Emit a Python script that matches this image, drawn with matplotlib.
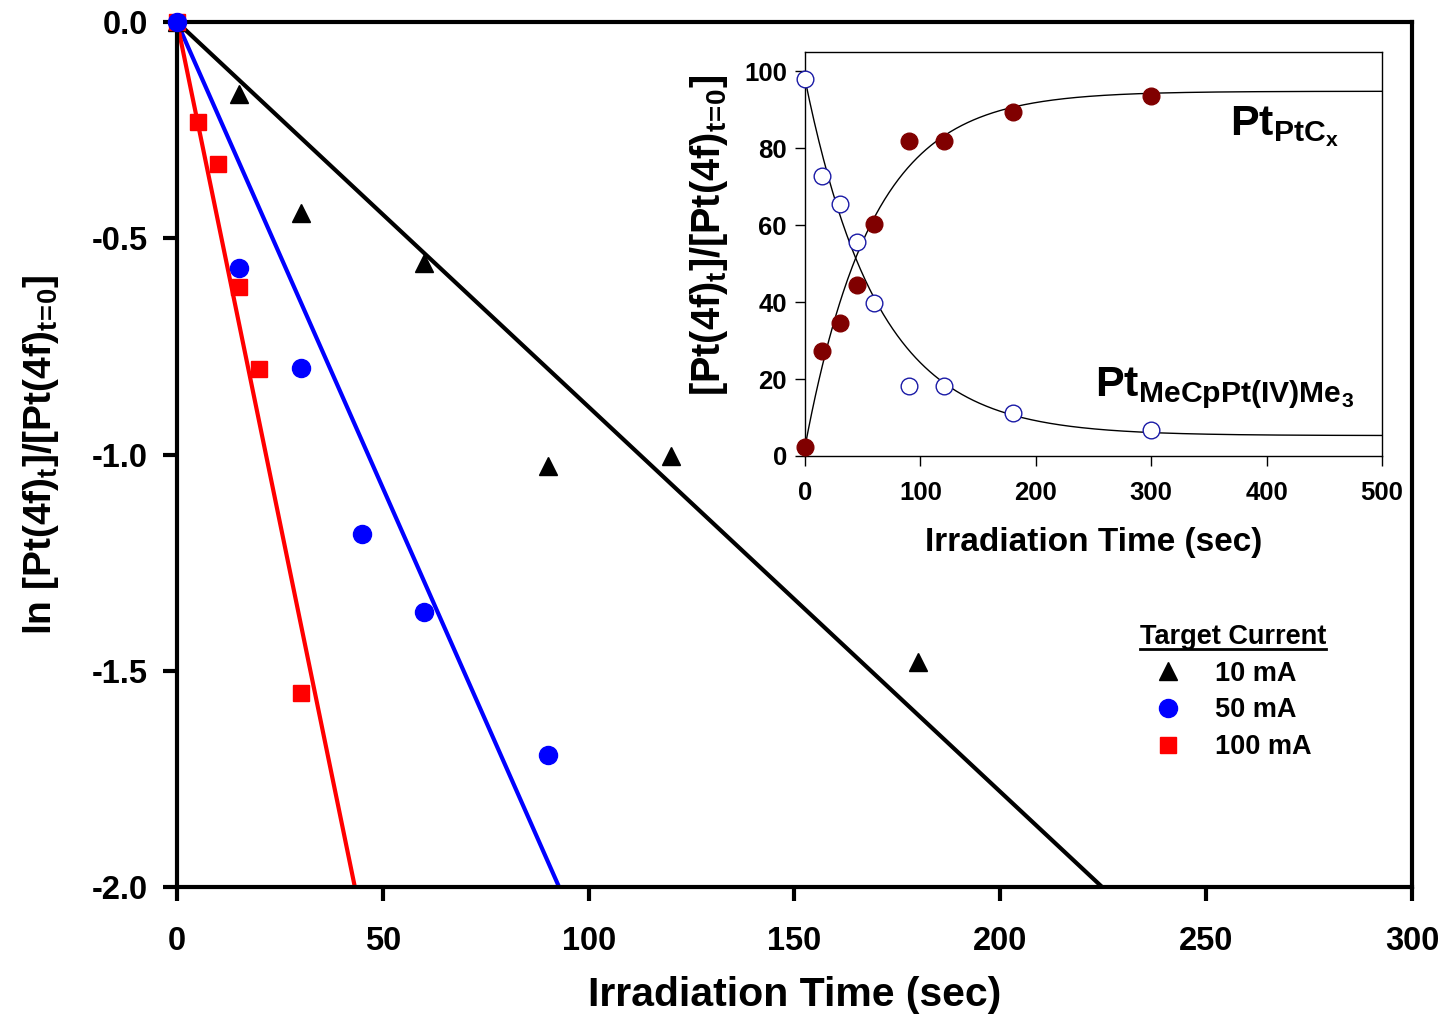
import numpy as np
import matplotlib
matplotlib.use("Agg")
import matplotlib.pyplot as plt
from matplotlib.lines import Line2D

plt.rcParams["font.family"] = ["Liberation Sans", "DejaVu Sans"]
plt.rcParams["font.weight"] = "bold"
plt.rcParams["mathtext.default"] = "regular"
plt.rcParams["axes.unicode_minus"] = False

# main panel: ln of normalised Pt(4f) signal vs irradiation time
t_10ma = [0, 15, 30, 60, 90, 120, 180]
ln_10ma = [0.0, -0.166, -0.442, -0.557, -1.027, -1.003, -1.48]
t_50ma = [0, 15, 30, 45, 60, 90]
ln_50ma = [0.0, -0.569, -0.80, -1.184, -1.364, -1.695]
t_100ma = [0, 5, 10, 15, 20, 30]
ln_100ma = [0.0, -0.231, -0.328, -0.613, -0.802, -1.551]

# slopes of the linear fits through the origin (1/sec)
slope_10ma = -0.0089
slope_50ma = -0.02155
slope_100ma = -0.0463

x_ticks = [0, 50, 100, 150, 200, 250, 300]
y_ticks = [-2.0, -1.5, -1.0, -0.5, 0.0]
y_tick_labels = ["-2.0", "-1.5", "-1.0", "-0.5", "0.0"]

# inset: percentage of each Pt species vs time
t_inset = [0, 15, 30, 45, 60, 90, 120, 180, 300]
pt_mecp = [97.9, 72.9, 65.6, 55.7, 39.8, 18.2, 18.2, 11.2, 6.8]
pt_ptcx = [2.3, 27.3, 34.6, 44.5, 60.4, 82.0, 82.0, 89.3, 93.5]

# exponential fit parameters (start, plateau, time constant)
decay_start, decay_end, decay_tau = 97.9, 5.3, 63.0
rise_start, rise_end, rise_tau = 2.4, 94.8, 58.0

inset_x_ticks = [0, 100, 200, 300, 400, 500]
inset_y_ticks = [0, 20, 40, 60, 80, 100]

fig = plt.figure(figsize=(14.44, 10.16), dpi=100)
ax = fig.add_axes([0.1226, 0.1270, 0.8552, 0.8513])

t_line = np.linspace(0, 300, 301)
ax.plot(t_line, slope_10ma * t_line, color="black", lw=3, zorder=2)
ax.plot(t_line, slope_50ma * t_line, color="#0000ff", lw=3, zorder=2)
ax.plot(t_line, slope_100ma * t_line, color="#ff0000", lw=3, zorder=2)

ax.plot(t_10ma, ln_10ma, "^", color="black", ms=13, ls="none",
        label="10 mA", clip_on=False, zorder=3)
ax.plot(t_100ma, ln_100ma, "s", color="#ff0000", ms=11, ls="none",
        label="100 mA", clip_on=False, zorder=3)
ax.plot(t_50ma, ln_50ma, "o", color="#0000ff", ms=13, ls="none",
        label="50 mA", clip_on=False, zorder=4)

ax.set_xlim(0, 300)
ax.set_ylim(-2, 0)
ax.set_xticks(x_ticks)
ax.set_yticks(y_ticks)
ax.set_yticklabels(y_tick_labels)
for s in ax.spines.values():
    s.set_linewidth(3)
ax.tick_params(direction="out", length=10, width=3, labelsize=23.5,
               top=False, right=False)
ax.tick_params(axis="x", pad=18)
ax.tick_params(axis="y", pad=11)
ax.set_xlabel("Irradiation Time (sec)", fontsize=29.5, fontweight="bold",
              labelpad=14)
ax.set_ylabel(r"ln [Pt(4f)$_t$]/[Pt(4f)$_{t\!=\!0}$]", fontsize=28,
              fontweight="bold", labelpad=22)

handles, labels = ax.get_legend_handles_labels()
order = [labels.index(n) for n in ["10 mA", "50 mA", "100 mA"]]
leg = ax.legend([handles[i] for i in order], [labels[i] for i in order],
                title="Target Current", loc="upper left",
                bbox_to_anchor=(0.7895, 0.386), bbox_transform=fig.transFigure,
                frameon=False, borderpad=0, borderaxespad=0, handlelength=1.0,
                handletextpad=1.25, labelspacing=0.4,
                prop={"size": 19.5, "weight": "bold"},
                title_fontproperties={"size": 19.5, "weight": "bold"})

# inset
ax2 = fig.add_axes([0.5575, 0.5512, 0.3996, 0.3976])
ax2.set_facecolor("white")
t_fit = np.linspace(0, 500, 501)
ax2.plot(t_fit, decay_end + (decay_start - decay_end) * np.exp(-t_fit / decay_tau),
         color="black", lw=1)
ax2.plot(t_fit, rise_end - (rise_end - rise_start) * np.exp(-t_fit / rise_tau),
         color="black", lw=1)
ax2.plot(t_inset, pt_mecp, "o", mfc="white", mec="#1a1aa6", mew=1, ms=12,
         ls="none", clip_on=False, zorder=3)
ax2.plot(t_inset, pt_ptcx, "o", color="#800000", ms=12, ls="none",
         clip_on=False, zorder=3)
ax2.set_xlim(0, 500)
ax2.set_ylim(0, 105)
ax2.set_xticks(inset_x_ticks)
ax2.set_yticks(inset_y_ticks)
for s in ax2.spines.values():
    s.set_linewidth(1)
ax2.tick_params(direction="out", length=7, width=1, labelsize=18.5)
ax2.tick_params(axis="x", pad=11)
ax2.tick_params(axis="y", pad=6)
ax2.set_xlabel("Irradiation Time (sec)", fontsize=24, fontweight="bold",
              labelpad=16)
ax2.set_ylabel(r"[Pt(4f)$_t$]/[Pt(4f)$_{t\!=\!0}$]", fontsize=28.5,
               fontweight="bold")
ax2.yaxis.set_label_coords(-0.13, 0.545)
ax2.text(0.737, 0.795, "Pt$_{PtC_x}$", transform=ax2.transAxes,
         fontsize=31, fontweight="bold")
ax2.text(0.503, 0.147, "Pt$_{MeCpPt(IV)Me_3}$", transform=ax2.transAxes,
         fontsize=31, fontweight="bold")

# underline the legend title
fig.canvas.draw()
bb = leg.get_title().get_window_extent()
inv = fig.transFigure.inverted()
(x0, y0), (x1, _) = inv.transform([(bb.x0, bb.y0 + 1), (bb.x1, bb.y0)])
fig.add_artist(Line2D([x0, x1], [y0, y0], color="black", lw=2,
                      transform=fig.transFigure))

fig.savefig("out.png", dpi=100)
